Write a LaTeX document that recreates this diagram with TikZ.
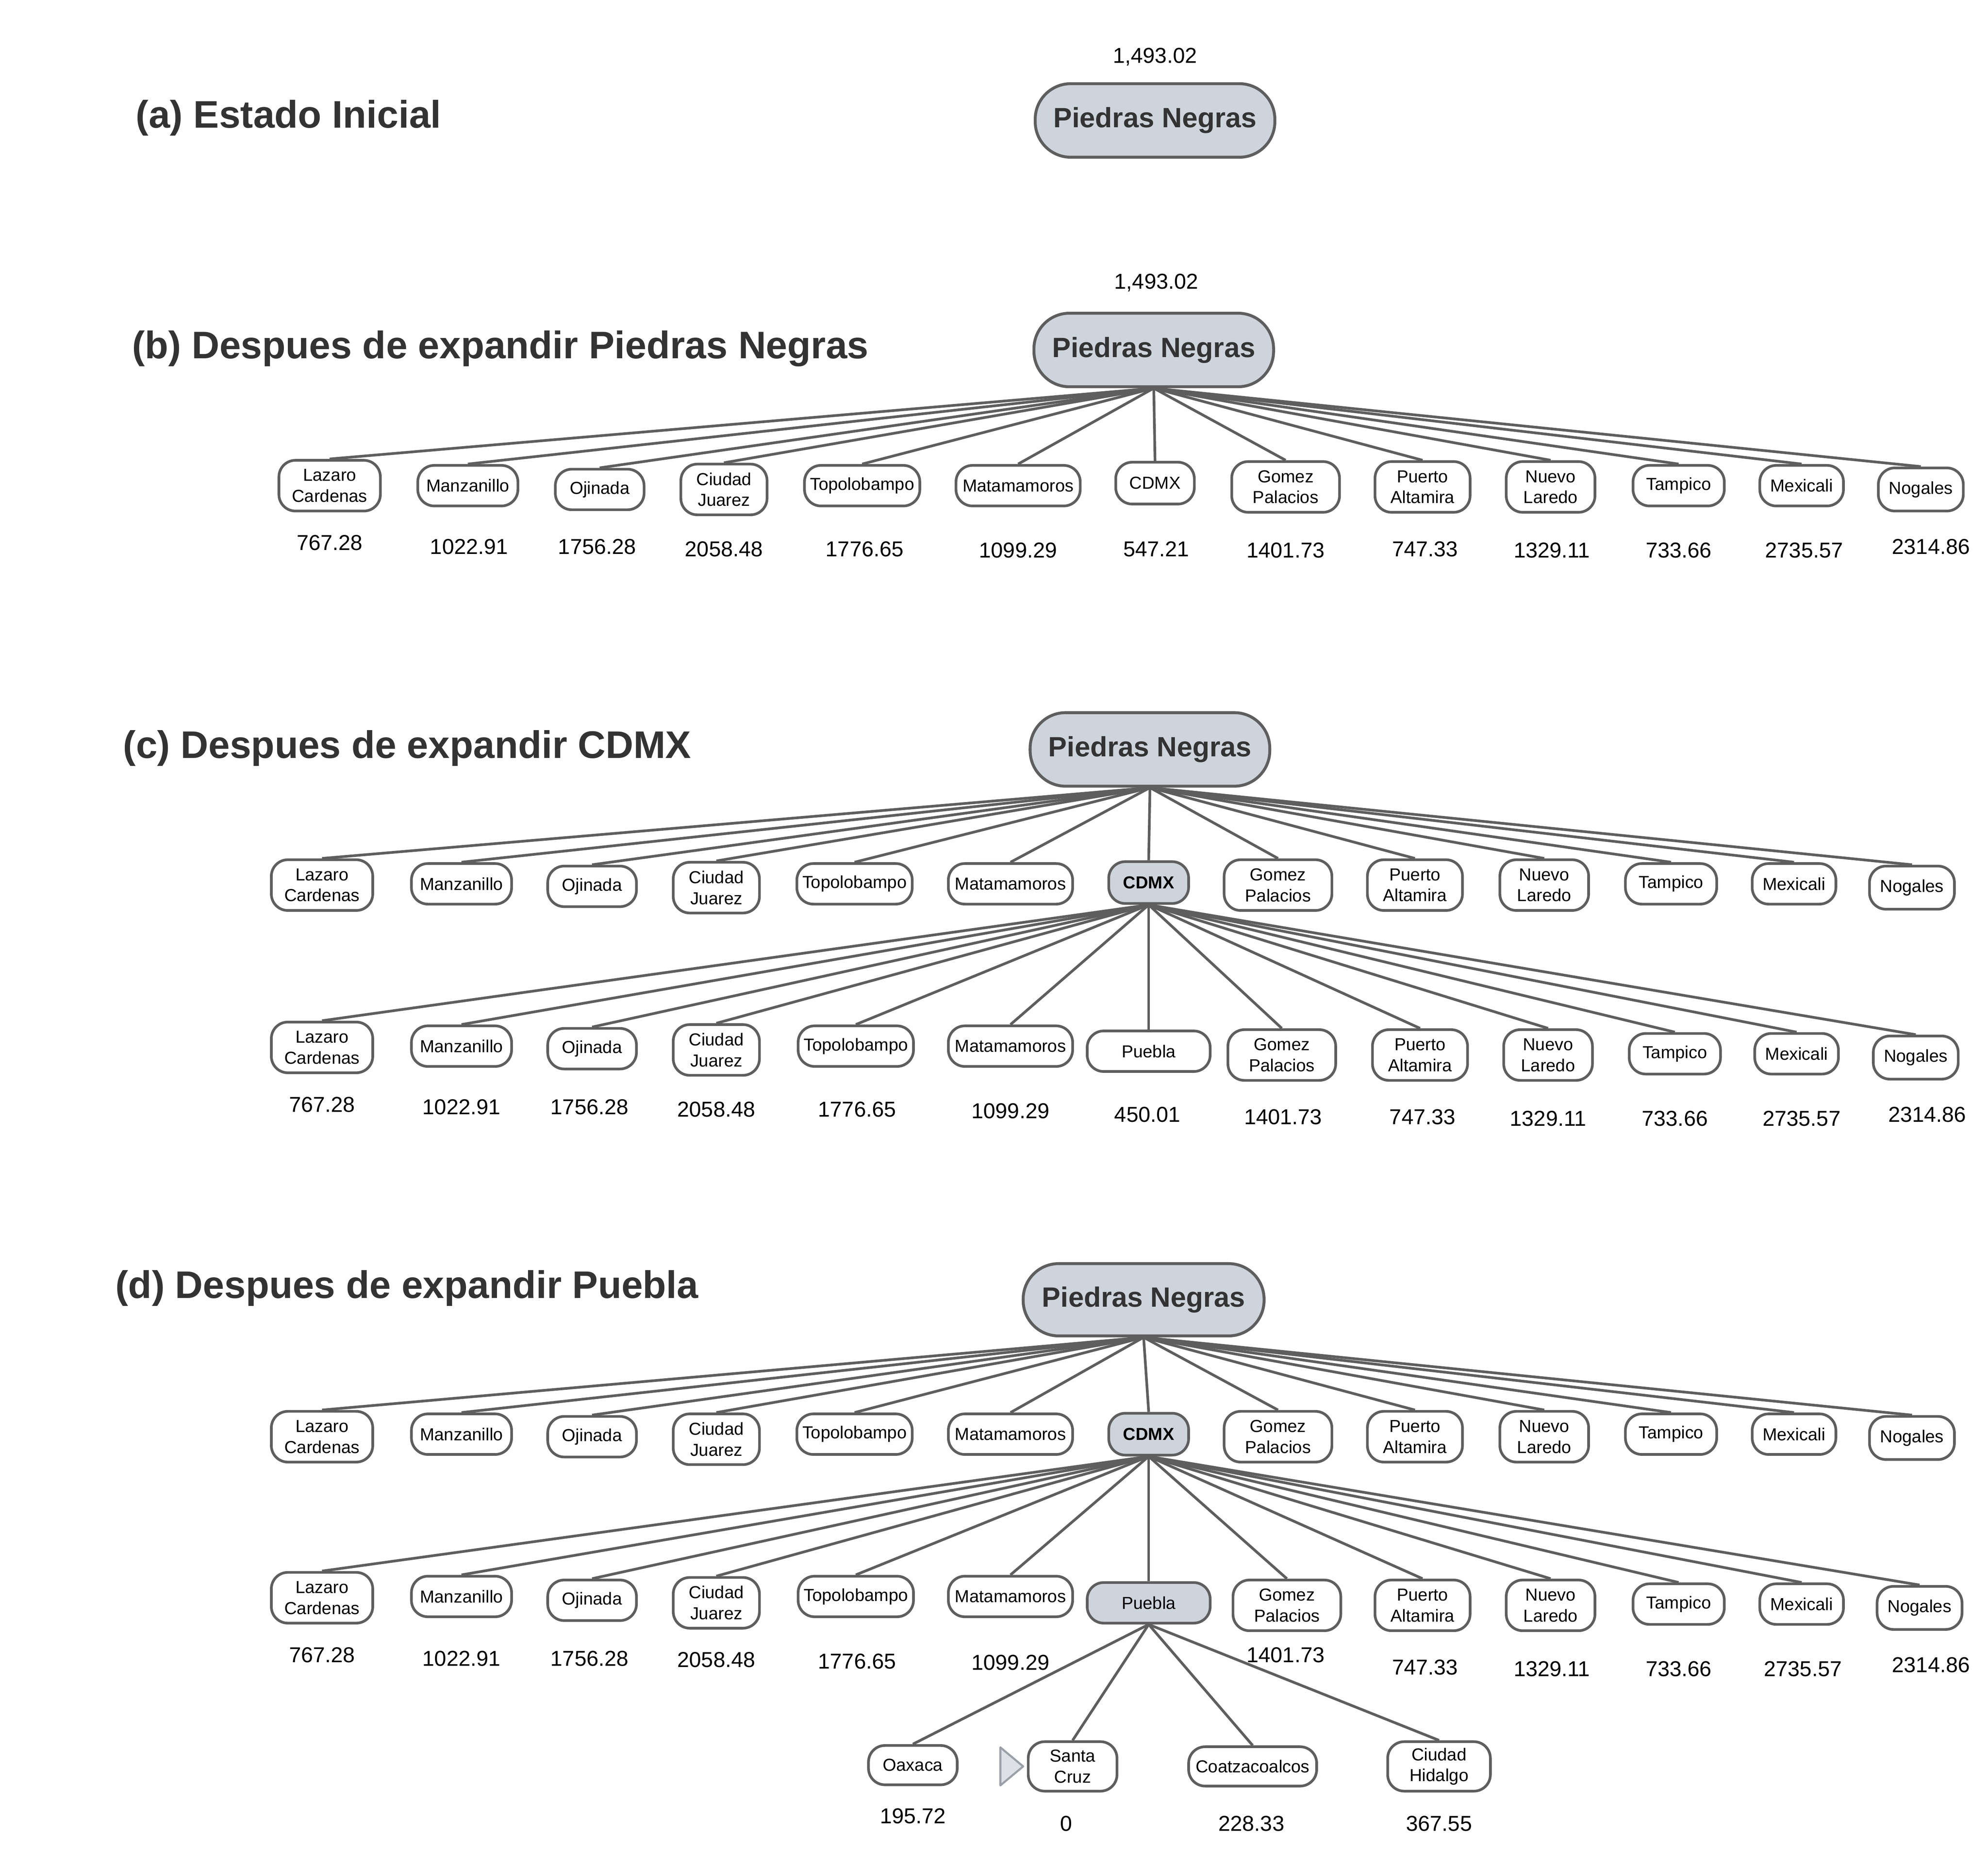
\documentclass[tikz,border=0pt]{standalone}
\usepackage{fontspec}
\setmainfont{Liberation Sans}
\usetikzlibrary{backgrounds}
\definecolor{edgegray}{HTML}{5E5E5E}
\definecolor{nodefill}{HTML}{CED4DC}
\definecolor{titlegray}{HTML}{333333}
\definecolor{trifill}{HTML}{DDE0E5}
\definecolor{triline}{HTML}{9AA0A8}
\tikzset{
  city/.style={draw=edgegray, line width=2.1pt, fill=white, rounded corners=13pt, align=center,
    inner sep=0pt, font=\fontsize{13.7}{16.5}\selectfont},
  cityhl/.style={city, fill=nodefill},
  wh/.style 2 args={minimum width=#1pt, minimum height=#2pt},
  rootbox/.style={draw=edgegray, line width=2.3pt, fill=nodefill, rounded corners=28pt,
    minimum width=189pt, minimum height=58pt, inner sep=0pt,
    font=\fontsize{22}{26}\selectfont\bfseries, text=titlegray},
  cost/.style={font=\fontsize{17}{19}\selectfont, inner sep=0pt},
  paneltitle/.style={font=\fontsize{30.3}{34}\selectfont\bfseries, text=titlegray, anchor=west, inner sep=0pt},
  edge/.style={draw=edgegray, line width=2.1pt},
}
\begin{document}
\begin{tikzpicture}[x=1pt,y=1pt]
\useasboundingbox (0,0) rectangle (1568,-1473.8);
\begin{scope}[on background layer]
\fill[white] (0,0) rectangle (1568,-1473.8);
\end{scope}

% ---------- (a) ----------
\node[paneltitle] (ta) at (107,-93) {(a) Estado Inicial};
\node[cost] (av) at (911,-45) {1,493.02};
\node[rootbox] (aroot) at (911,-95) {Piedras Negras};

% ---------- (b) ----------
\node[paneltitle] (tb) at (104,-275) {(b) Despues de expandir Piedras Negras};
\node[cost] (bv0) at (912,-223) {1,493.02};
\node[rootbox] (broot) at (910,-276) {Piedras Negras};
\node[city,wh={80}{40}] (b1) at (260,-383) {Lazaro\\Cardenas};
\node[city,wh={79}{32}] (b2) at (369,-383) {Manzanillo};
\node[city,wh={70}{32}] (b3) at (473,-386) {Ojinada};
\node[city,wh={68}{40}] (b4) at (571,-386) {Ciudad\\Juarez};
\node[city,wh={91}{32}] (b5) at (680,-383) {Topolobampo};
\node[city,wh={98}{32}] (b6) at (803,-383) {Matamamoros};
\node[city,wh={62}{33}] (b7) at (911,-381) {CDMX};
\node[city,wh={85}{40}] (b8) at (1014,-384) {Gomez\\Palacios};
\node[city,wh={75}{40}] (b9) at (1122,-384) {Puerto\\Altamira};
\node[city,wh={70}{40}] (b10) at (1223,-384) {Nuevo\\Laredo};
\node[city,wh={72}{32}] (b11) at (1324,-383) {Tampico};
\node[city,wh={66}{32}] (b12) at (1421,-383) {Mexicali};
\node[city,wh={67}{34}] (b13) at (1515,-386) {Nogales};
\node[cost] (bv1) at (260,-428) {767.28};
\node[cost] (bv2) at (370,-431) {1022.91};
\node[cost] (bv3) at (471,-431) {1756.28};
\node[cost] (bv4) at (571,-433) {2058.48};
\node[cost] (bv5) at (682,-433) {1776.65};
\node[cost] (bv6) at (803,-434) {1099.29};
\node[cost] (bv7) at (912,-433) {547.21};
\node[cost] (bv8) at (1014,-434) {1401.73};
\node[cost] (bv9) at (1124,-433) {747.33};
\node[cost] (bv10) at (1224,-434) {1329.11};
\node[cost] (bv11) at (1324,-434) {733.66};
\node[cost] (bv12) at (1423,-434) {2735.57};
\node[cost] (bv13) at (1523,-431) {2314.86};
\begin{scope}[on background layer]
\foreach \i in {1,...,13} \draw[edge] (broot.south) -- (b\i.north);
\end{scope}

% ---------- (c) ----------
\node[paneltitle] (tc) at (97,-590) {(c) Despues de expandir CDMX};
\node[rootbox] (croot) at (907,-591) {Piedras Negras};
\node[city,wh={80}{40}] (c1) at (254,-698) {Lazaro\\Cardenas};
\node[city,wh={79}{32}] (c2) at (364,-697) {Manzanillo};
\node[city,wh={70}{32}] (c3) at (467,-699) {Ojinada};
\node[city,wh={68}{40}] (c4) at (565,-700) {Ciudad\\Juarez};
\node[city,wh={91}{32}] (c5) at (674,-697) {Topolobampo};
\node[city,wh={98}{32}] (c6) at (797,-697) {Matamamoros};
\node[cityhl,wh={63}{33},font=\fontsize{13.7}{16.5}\selectfont\bfseries] (c7) at (906,-696) {CDMX};
\node[city,wh={85}{40}] (c8) at (1008,-698) {Gomez\\Palacios};
\node[city,wh={75}{40}] (c9) at (1116,-698) {Puerto\\Altamira};
\node[city,wh={70}{40}] (c10) at (1218,-698) {Nuevo\\Laredo};
\node[city,wh={72}{32}] (c11) at (1318,-697) {Tampico};
\node[city,wh={66}{32}] (c12) at (1415,-697) {Mexicali};
\node[city,wh={67}{34}] (c13) at (1508,-700) {Nogales};

\node[city,wh={80}{40}] (cc1) at (254,-826) {Lazaro\\Cardenas};
\node[city,wh={79}{32}] (cc2) at (364,-825) {Manzanillo};
\node[city,wh={70}{32}] (cc3) at (467,-827) {Ojinada};
\node[city,wh={68}{40}] (cc4) at (565,-828) {Ciudad\\Juarez};
\node[city,wh={91}{32}] (cc5) at (675,-825) {Topolobampo};
\node[city,wh={98}{32}] (cc6) at (797,-825) {Matamamoros};
\node[city,wh={97}{32}] (cc7) at (906,-829) {Puebla};
\node[city,wh={85}{40}] (cc8) at (1011,-832) {Gomez\\Palacios};
\node[city,wh={75}{40}] (cc9) at (1120,-832) {Puerto\\Altamira};
\node[city,wh={70}{40}] (cc10) at (1221,-832) {Nuevo\\Laredo};
\node[city,wh={72}{32}] (cc11) at (1321,-831) {Tampico};
\node[city,wh={66}{32}] (cc12) at (1417,-831) {Mexicali};
\node[city,wh={67}{34}] (cc13) at (1511,-834) {Nogales};
\node[cost] (cv1) at (254,-871) {767.28};
\node[cost] (cv2) at (364,-873) {1022.91};
\node[cost] (cv3) at (465,-873) {1756.28};
\node[cost] (cv4) at (565,-875) {2058.48};
\node[cost] (cv5) at (676,-875) {1776.65};
\node[cost] (cv6) at (797,-876) {1099.29};
\node[cost] (cv7) at (905,-879) {450.01};
\node[cost] (cv8) at (1012,-881) {1401.73};
\node[cost] (cv9) at (1122,-881) {747.33};
\node[cost] (cv10) at (1221,-882) {1329.11};
\node[cost] (cv11) at (1321,-882) {733.66};
\node[cost] (cv12) at (1421,-882) {2735.57};
\node[cost] (cv13) at (1520,-879) {2314.86};
\begin{scope}[on background layer]
\foreach \i in {1,...,13} \draw[edge] (croot.south) -- (c\i.north);
\foreach \i in {1,...,13} \draw[edge] (c7.south) -- (cc\i.north);
\end{scope}

% ---------- (d) ----------
\node[paneltitle] (td) at (91,-1016) {(d) Despues de expandir Puebla};
\node[rootbox,minimum width=190pt,minimum height=57pt] (droot) at (902,-1025) {Piedras Negras};
\node[city,wh={80}{40}] (d1) at (254,-1133) {Lazaro\\Cardenas};
\node[city,wh={79}{32}] (d2) at (364,-1131) {Manzanillo};
\node[city,wh={70}{32}] (d3) at (467,-1133) {Ojinada};
\node[city,wh={68}{40}] (d4) at (565,-1135) {Ciudad\\Juarez};
\node[city,wh={91}{32}] (d5) at (674,-1131) {Topolobampo};
\node[city,wh={98}{32}] (d6) at (797,-1131) {Matamamoros};
\node[cityhl,wh={63}{33},font=\fontsize{13.7}{16.5}\selectfont\bfseries] (d7) at (906,-1131) {CDMX};
\node[city,wh={85}{40}] (d8) at (1008,-1133) {Gomez\\Palacios};
\node[city,wh={75}{40}] (d9) at (1116,-1133) {Puerto\\Altamira};
\node[city,wh={70}{40}] (d10) at (1218,-1133) {Nuevo\\Laredo};
\node[city,wh={72}{32}] (d11) at (1318,-1131) {Tampico};
\node[city,wh={66}{32}] (d12) at (1415,-1131) {Mexicali};
\node[city,wh={67}{34}] (d13) at (1508,-1134) {Nogales};

\node[city,wh={80}{40}] (dd1) at (254,-1260) {Lazaro\\Cardenas};
\node[city,wh={79}{32}] (dd2) at (364,-1259) {Manzanillo};
\node[city,wh={70}{32}] (dd3) at (467,-1262) {Ojinada};
\node[city,wh={68}{40}] (dd4) at (565,-1264) {Ciudad\\Juarez};
\node[city,wh={91}{32}] (dd5) at (675,-1259) {Topolobampo};
\node[city,wh={98}{32}] (dd6) at (797,-1259) {Matamamoros};
\node[cityhl,wh={97}{32}] (dd7) at (906,-1264) {Puebla};
\node[city,wh={85}{40}] (dd8) at (1015,-1266) {Gomez\\Palacios};
\node[city,wh={75}{40}] (dd9) at (1122,-1266) {Puerto\\Altamira};
\node[city,wh={70}{40}] (dd10) at (1223,-1266) {Nuevo\\Laredo};
\node[city,wh={72}{32}] (dd11) at (1324,-1265) {Tampico};
\node[city,wh={66}{32}] (dd12) at (1421,-1265) {Mexicali};
\node[city,wh={67}{34}] (dd13) at (1514,-1268) {Nogales};
\node[cost] (dv1) at (254,-1305) {767.28};
\node[cost] (dv2) at (364,-1308) {1022.91};
\node[cost] (dv3) at (465,-1308) {1756.28};
\node[cost] (dv4) at (565,-1309) {2058.48};
\node[cost] (dv5) at (676,-1310) {1776.65};
\node[cost] (dv6) at (797,-1311) {1099.29};
\node[cost] (dv8) at (1014,-1305) {1401.73};
\node[cost] (dv9) at (1124,-1315) {747.33};
\node[cost] (dv10) at (1224,-1316) {1329.11};
\node[cost] (dv11) at (1324,-1316) {733.66};
\node[cost] (dv12) at (1422,-1316) {2735.57};
\node[cost] (dv13) at (1523,-1313) {2314.86};

\node[city,wh={70}{31}] (ddd1) at (720,-1392) {Oaxaca};
\node[city,wh={70}{39}] (ddd2) at (846,-1393) {Santa\\Cruz};
\node[city,wh={101}{31}] (ddd3) at (988,-1393) {Coatzacoalcos};
\node[city,wh={81}{39}] (ddd4) at (1135,-1393) {Ciudad\\Hidalgo};
\node[cost] (dvv1) at (720,-1432) {195.72};
\node[cost] (dvv2) at (841,-1438) {0};
\node[cost] (dvv3) at (987,-1438) {228.33};
\node[cost] (dvv4) at (1135,-1438) {367.55};
\draw[triline, fill=trifill, line width=1.6pt, line join=round] (789,-1378) -- (807,-1393) -- (789,-1408) -- cycle;

\begin{scope}[on background layer]
\foreach \i in {1,...,13} \draw[edge] (droot.south) -- (d\i.north);
\foreach \i in {1,...,13} \draw[edge] (d7.south) -- (dd\i.north);
\foreach \i in {1,...,4} \draw[edge] (dd7.south) -- (ddd\i.north);
\end{scope}
\end{tikzpicture}
\end{document}
